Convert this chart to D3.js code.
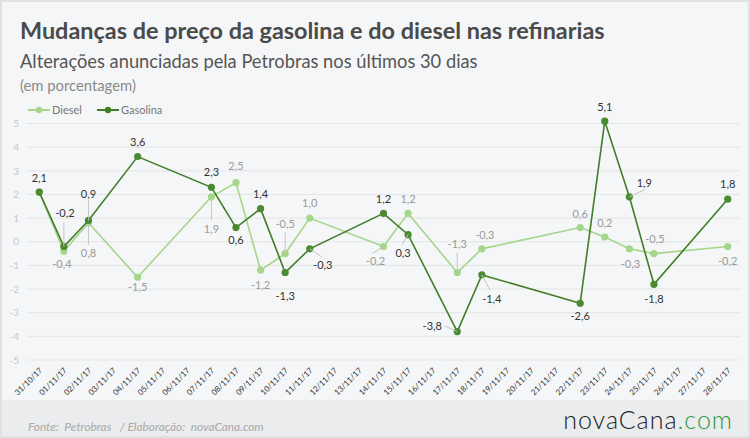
<!DOCTYPE html>
<html><head><meta charset="utf-8">
<script src="https://cdn.jsdelivr.net/npm/d3@7"></script>
<style>body{margin:0;background:#fff;}svg{display:block;font-family:Lato,"Open Sans",sans-serif;}</style>
</head><body><svg id="c" width="750" height="438"></svg>
<script>
const dates = ["31/10/17","01/11/17","02/11/17","03/11/17","04/11/17","05/11/17","06/11/17","07/11/17","08/11/17","09/11/17","10/11/17","11/11/17","12/11/17","13/11/17","14/11/17","15/11/17","16/11/17","17/11/17","18/11/17","19/11/17","20/11/17","21/11/17","22/11/17","23/11/17","24/11/17","25/11/17","26/11/17","27/11/17","28/11/17"];
const diesel = [2.1,-0.4,0.8,null,-1.5,null,null,1.9,2.5,-1.2,-0.5,1.0,null,null,-0.2,1.2,null,-1.3,-0.3,null,null,null,0.6,0.2,-0.3,-0.5,null,null,-0.2];
const gasolina = [2.1,-0.2,0.9,null,3.6,null,null,2.3,0.6,1.4,-1.3,-0.3,null,null,1.2,0.3,null,-3.8,-1.4,null,null,null,-2.6,5.1,1.9,-1.8,null,null,1.8];
const yTicks = [-5,-4,-3,-2,-1,0,1,2,3,4,5];
// label placement: [dx, dy(center), leaderEndDx, leaderEndDy] ; null = hide
const gasLabelPos = [[0,-14],[1,-33,0,-24],[0,-26,0,-20],[0,-15],[0,-15],null,null,[0,-15],[0,12],[0,-15],[0,24],[13,16,12,8],null,null,[0,-14],[-5,18,-6,10],null,[-25,-6,-13,-6],[10,24,8,15],null,null,null,[0,13],[0,-14],[15,-14,15,-7],[0,15],null,null,[0,-15]];
const dieselLabelPos = [null,[-2,13],[0,30,0,22],null,[0,10],null,null,[0,32,0,23],[0,-17],[0,15],[0,-30,0,-21],[0,-15],null,null,[-8,15,-11,7],[0,-14],null,[0,-28,0,-20],[3,-14],null,null,null,[0,-14],[0,-14],[1,15],[1,-15],null,null,[0,15]];

const svg = d3.select("#c");
const W = 750, H = 438;
svg.append("rect").attr("x",0).attr("y",0).attr("width",W).attr("height",H).attr("fill","#f5f6f7");
svg.append("rect").attr("x",0).attr("y",400).attr("width",W).attr("height",H-400).attr("fill","#ebeced");
svg.append("rect").attr("x",1).attr("y",1).attr("width",W-2).attr("height",H-2).attr("fill","none").attr("stroke","#e0e1e2").attr("stroke-width",2);

function fitText(sel, width){
  const fs = +sel.attr("font-size");
  const w = sel.node().getComputedTextLength();
  if(w>0) sel.attr("font-size", fs*width/w);
  return sel;
}
fitText(svg.append("text").attr("x",20).attr("y",39).attr("fill","#4a4a4a").attr("font-size",21).attr("font-weight",700)
  .text("Mudanças de preço da gasolina e do diesel nas refinarias"), 585);
fitText(svg.append("text").attr("x",20).attr("y",68).attr("fill","#555").attr("font-size",16.5)
  .text("Alterações anunciadas pela Petrobras nos últimos 30 dias"), 458);
fitText(svg.append("text").attr("x",20).attr("y",91).attr("fill","#8a8a8a").attr("font-size",12.5)
  .text("(em porcentagem)"), 116);

const x = d3.scalePoint().domain(dates).range([27,740]).padding(0.5);
const y = d3.scaleLinear().domain([-5,5]).range([360,123.5]);

const grid = svg.append("g");
grid.selectAll("line").data(yTicks).join("line")
  .attr("x1",27).attr("x2",740).attr("y1",d=>y(d)).attr("y2",d=>y(d))
  .attr("stroke","#e3e5e7").attr("stroke-width",1);

const yAxis = svg.append("g").attr("transform","translate(27,0)")
  .call(d3.axisLeft(y).tickValues(yTicks).tickSize(0).tickPadding(8).tickFormat(d=>String(d)));
yAxis.select(".domain").remove();
yAxis.selectAll("text").attr("fill","#c6c8ca").attr("font-size",10).attr("font-family","Lato,sans-serif");

const xAxis = svg.append("g").attr("transform","translate(0,368)")
  .call(d3.axisBottom(x).tickSize(0).tickPadding(0));
xAxis.select(".domain").remove();
xAxis.selectAll("text").attr("fill","#333").attr("font-size",8).attr("font-family","Lato,sans-serif")
  .attr("text-anchor","end").attr("dy",0)
  .attr("transform","translate(3,3) rotate(-45)");

const cD = "#a5d68b", cG = "#427d28", cGp = "#4a8a30";
const line = d3.line().defined(d=>d.v!==null).x(d=>x(d.k)).y(d=>y(d.v));
function series(vals, color, ptColor, lblPos, lblColor, sw){
  const data = vals.map((v,i)=>({k:dates[i],v,i})).filter(d=>d.v!==null);
  const g = svg.append("g");
  g.append("path").datum(data).attr("d",line).attr("fill","none").attr("stroke",color).attr("stroke-width",sw);
  g.selectAll("circle").data(data).join("circle").attr("cx",d=>x(d.k)).attr("cy",d=>y(d.v)).attr("r",3.6).attr("fill",ptColor);
  return {g,data,lblPos,lblColor};
}
function labels(s){
  const {g,data,lblPos,lblColor} = s;
  data.forEach(d=>{
    const p = lblPos[d.i]; if(!p) return;
    const px = x(d.k), py = y(d.v);
    if(p.length>2){
      g.append("line").attr("x1",px).attr("y1",py).attr("x2",px+p[2]).attr("y2",py+p[3]).attr("stroke","#c3c5c7").attr("stroke-width",1);
    }
    g.append("text").attr("x",px+p[0]).attr("y",py+p[1]+4).attr("text-anchor","middle")
      .attr("font-size",11).attr("fill",lblColor).text(d3.format(".1f")(d.v).replace(".",",").replace("−","-"));
  });
}
const sD = series(diesel, cD, cD, dieselLabelPos, "#9a9a9a", 1.6);
const sG = series(gasolina, cG, cGp, gasLabelPos, "#333", 1.6);
labels(sD); labels(sG);

// legend
const leg = svg.append("g").attr("transform","translate(0,110)");
[["Diesel",cD,28],["Gasolina",cG,97]].forEach(([t,c,lx])=>{
  leg.append("line").attr("x1",lx).attr("x2",lx+22).attr("y1",0).attr("y2",0).attr("stroke",c).attr("stroke-width",2);
  leg.append("circle").attr("cx",lx+11).attr("cy",0).attr("r",3.2).attr("fill",c);
  leg.append("text").attr("x",lx+24).attr("y",4).attr("font-size",11).attr("fill","#777").text(t);
});

// footer
fitText(svg.append("text").attr("x",28).attr("y",431).attr("font-size",12).attr("font-style","italic").attr("fill","#a8a9aa")
  .attr("xml:space","preserve").text("Fonte:  Petrobras   / Elaboração:  novaCana.com"), 236);
const logo = svg.append("text").attr("x",733).attr("y",429).attr("text-anchor","end").attr("font-size",25)
  .attr("font-weight",300).attr("font-family","Lato,sans-serif").attr("letter-spacing",1);
logo.append("tspan").attr("fill","#222").text("novaCana");
logo.append("tspan").attr("fill","#2e9a3c").text(".com");
</script></body></html>
